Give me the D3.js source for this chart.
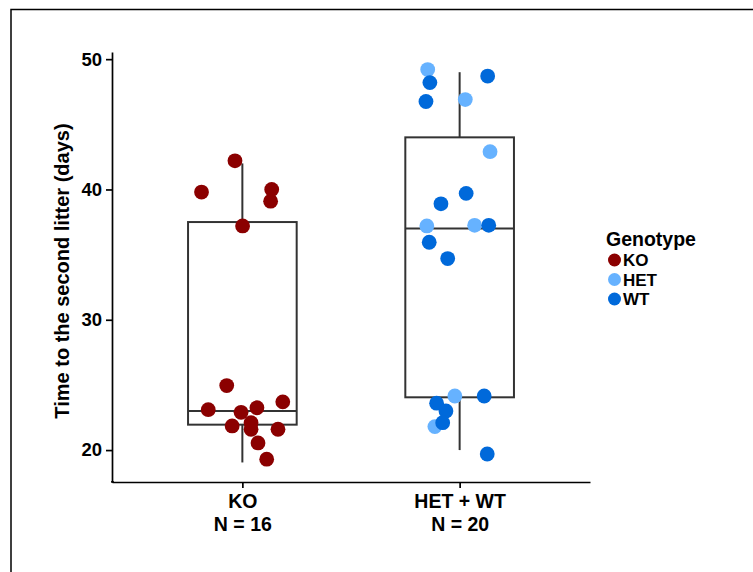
<!DOCTYPE html>
<html>
<head>
<meta charset="utf-8">
<script src="https://cdn.jsdelivr.net/npm/d3@7"></script>
<style>
  body { margin: 0; background: #fff; }
  svg { display: block; font-family: "Liberation Sans", Arial, sans-serif; }
</style>
</head>
<body>
<div id="chart"></div>
<script>
// categories and labels
const groups = ['KO', 'HET + WT'];
const groupN = [16, 20];
const genotypes = ['KO', 'HET', 'WT'];
const genotypeColors = ['#8b0000', '#66b2ff', '#0069da'];
const yTicks = [20, 30, 40, 50];

// box stats per group: [ymin, q1, median, q3, ymax]
const boxKO = [19.05, 21.95, 23.0, 37.5, 42.0];
const boxHW = [20.0, 24.05, 37.0, 44.0, 49.0];

// KO points: jitter offset (category units) and value
const koJitter = [-0.034, -0.188, 0.135, 0.130, 0.001, -0.072, -0.157, -0.006, 0.067, 0.186, -0.047, 0.040, 0.040, 0.164, 0.072, 0.112];
const koValues = [42.2, 39.8, 40.0, 39.1, 37.2, 24.95, 23.1, 22.9, 23.25, 23.7, 21.85, 22.1, 21.6, 21.6, 20.55, 19.3];

// HET points
const hetJitter = [-0.147, 0.026, 0.140, -0.151, 0.069, -0.022, -0.114];
const hetValues = [49.2, 46.9, 42.9, 37.2, 37.25, 24.15, 21.8];

// WT points
const wtJitter = [-0.137, 0.129, -0.155, 0.030, -0.086, 0.134, -0.140, -0.055, 0.113, -0.106, -0.063, -0.078, 0.127];
const wtValues = [48.2, 48.7, 46.75, 39.7, 38.9, 37.25, 35.95, 34.7, 24.15, 23.6, 23.0, 22.1, 19.7];

const W = 753, H = 572;
const margin = { left: 112, right: 163, top: 52, bottom: 90 };

const svg = d3.select('#chart').append('svg')
    .attr('width', W)
    .attr('height', H);

// outer frame
svg.append('rect')
    .attr('x', 11).attr('y', 9.5)
    .attr('width', 900).attr('height', 900)
    .attr('fill', 'none')
    .attr('stroke', '#000')
    .attr('stroke-width', 1.5);

const x = d3.scaleLinear()
    .domain([0.4, 2.6])
    .range([margin.left, W - margin.right]);

const y = d3.scaleLinear()
    .domain([17.55, 50.55])
    .range([H - margin.bottom, margin.top]);

const colorOf = d3.scaleOrdinal().domain(genotypes).range(genotypeColors);

// axes
const yAxis = svg.append('g')
    .attr('transform', `translate(${margin.left},0)`)
    .call(d3.axisLeft(y).tickValues(yTicks).tickSize(6).tickPadding(4).tickSizeOuter(0));
const xAxis = svg.append('g')
    .attr('transform', `translate(0,${H - margin.bottom})`)
    .call(d3.axisBottom(x).tickValues([1, 2]).tickSize(6).tickSizeOuter(0).tickFormat(() => ''));

[yAxis, xAxis].forEach(a => {
    a.select('.domain').attr('stroke', '#000').attr('stroke-width', 1.7);
    a.selectAll('.tick line').attr('stroke', '#000').attr('stroke-width', 1.7);
});
// join the two axis lines at the corner
svg.append('path')
    .attr('d', `M${margin.left},${y.range()[0] - 1}V${H - margin.bottom}H${margin.left + 2}`)
    .attr('stroke', '#000').attr('stroke-width', 1.7).attr('fill', 'none');

yAxis.selectAll('.tick text')
    .attr('fill', '#000')
    .style('font-size', '18.5px')
    .style('font-weight', 'bold');

// x labels (two lines)
xAxis.selectAll('.tick').each(function (d, i) {
    const t = d3.select(this).select('text')
        .attr('fill', '#000')
        .attr('y', 0)
        .attr('dy', null)
        .style('font-size', '19.5px')
        .style('font-weight', 'bold')
        .text(null);
    t.append('tspan').attr('x', 0).attr('y', 25.5).text(groups[i]);
    t.append('tspan').attr('x', 0).attr('y', 49).text(`N = ${groupN[i]}`);
});

// y title
svg.append('text')
    .attr('transform', `translate(69,${(y.range()[0] + y.range()[1]) / 2 + 4}) rotate(-90)`)
    .attr('text-anchor', 'middle')
    .style('font-size', '20px')
    .style('font-weight', 'bold')
    .text('Time to the second litter (days)');

// boxplots
const boxW = 0.5;
[boxKO, boxHW].forEach((b, i) => {
    const c = i + 1;
    const g = svg.append('g').attr('stroke', '#333').attr('stroke-width', 2).attr('fill', 'none');
    g.append('line').attr('x1', x(c)).attr('x2', x(c)).attr('y1', y(b[3])).attr('y2', y(b[4]));
    g.append('line').attr('x1', x(c)).attr('x2', x(c)).attr('y1', y(b[1])).attr('y2', y(b[0]));
    g.append('rect')
        .attr('x', x(c - boxW / 2))
        .attr('y', y(b[3]))
        .attr('width', x(c + boxW / 2) - x(c - boxW / 2))
        .attr('height', y(b[1]) - y(b[3]));
    g.append('line')
        .attr('x1', x(c - boxW / 2)).attr('x2', x(c + boxW / 2))
        .attr('y1', y(b[2])).attr('y2', y(b[2]));
});

// jittered points
const pts = [
    ...koValues.map((v, i) => ({ g: 1, geno: 'KO', j: koJitter[i], v })),
    ...hetValues.map((v, i) => ({ g: 2, geno: 'HET', j: hetJitter[i], v })),
    ...wtValues.map((v, i) => ({ g: 2, geno: 'WT', j: wtJitter[i], v }))
];

svg.append('g').selectAll('circle')
    .data(pts)
    .enter().append('circle')
    .attr('cx', d => x(d.g + d.j))
    .attr('cy', d => y(d.v))
    .attr('r', 7.4)
    .attr('fill', d => colorOf(d.geno));

// legend
const legend = svg.append('g').attr('transform', 'translate(606,246)');
legend.append('text')
    .style('font-size', '19.5px')
    .style('font-weight', 'bold')
    .text('Genotype');
genotypes.forEach((gt, i) => {
    const row = legend.append('g').attr('transform', `translate(0,${14 + i * 19.5})`);
    row.append('circle').attr('cx', 8.5).attr('cy', 0).attr('r', 6.5).attr('fill', colorOf(gt));
    row.append('text')
        .attr('x', 17)
        .attr('dy', '0.36em')
        .style('font-size', '17px')
        .style('font-weight', 'bold')
        .text(gt);
});
</script>
</body>
</html>
